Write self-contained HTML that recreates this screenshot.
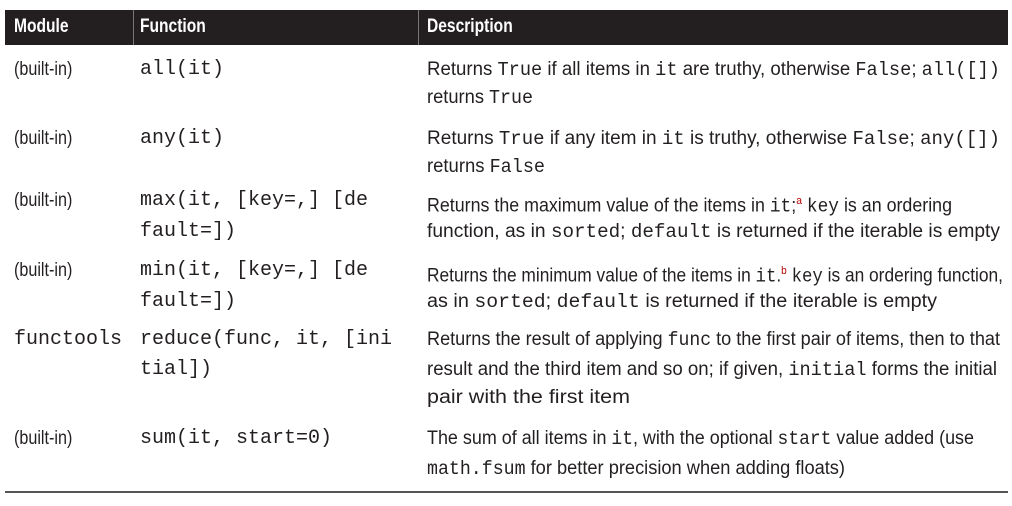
<!DOCTYPE html>
<html><head><meta charset="utf-8"><style>
body{margin:0;width:1012px;height:506px;background:#fff;position:relative;overflow:hidden;font-family:"Liberation Sans",sans-serif;color:#231f20}
.hd{position:absolute;left:5px;top:10px;width:1003px;height:35px;background:#231f20}
.sep{position:absolute;top:10px;width:1px;height:35px;background:#777}
.h{position:absolute;top:13px;color:#fff;font-weight:bold;font-size:19px;line-height:28px;transform:scaleX(.82);transform-origin:left;white-space:nowrap}
.l{position:absolute;height:22px;line-height:22px;font-size:19px;white-space:nowrap;transform-origin:left center}
.l span.in{display:inline-block;transform-origin:left center}
code{font-family:"Liberation Mono",monospace;font-size:19px}
.m{position:absolute;height:22px;line-height:22px;font-family:"Liberation Mono",monospace;font-size:20px;white-space:nowrap;color:#231f20}
sup{color:#b00;font-size:11px}
.rule{position:absolute;left:5px;width:1003px;top:491px;height:2px;background:#555}
</style></head><body>
<div class="hd"></div>
<div class="sep" style="left:133px"></div>
<div class="sep" style="left:418px"></div>
<div class="h" style="left:14px">Module</div>
<div class="h" style="left:140px">Function</div>
<div class="h" style="left:427px">Description</div>

<div class="l" style="left:14px;top:59px"><span class="in" style="transform:scaleX(.85)">(built-in)</span></div>
<div class="l" style="left:14px;top:128px"><span class="in" style="transform:scaleX(.85)">(built-in)</span></div>
<div class="l" style="left:14px;top:190px"><span class="in" style="transform:scaleX(.85)">(built-in)</span></div>
<div class="l" style="left:14px;top:260px"><span class="in" style="transform:scaleX(.85)">(built-in)</span></div>
<div class="m" style="left:14px;top:329px">functools</div>
<div class="l" style="left:14px;top:428px"><span class="in" style="transform:scaleX(.85)">(built-in)</span></div>

<div class="m" style="left:140px;top:59px">all(it)</div>
<div class="m" style="left:140px;top:128px">any(it)</div>
<div class="m" style="left:140px;top:190px">max(it, [key=,] [de</div>
<div class="m" style="left:140px;top:221px">fault=])</div>
<div class="m" style="left:140px;top:260px">min(it, [key=,] [de</div>
<div class="m" style="left:140px;top:291px">fault=])</div>
<div class="m" style="left:140px;top:329px">reduce(func, it, [ini</div>
<div class="m" style="left:140px;top:359px">tial])</div>
<div class="m" style="left:140px;top:428px">sum(it, start=0)</div>

<div class="l" style="left:427px;top:59px"><span class="in fit" title="573">Returns <code>True</code> if all items in <code>it</code> are truthy, otherwise <code>False</code>; <code>all([])</code></span></div>
<div class="l" style="left:427px;top:87px"><span class="in fit" title="106">returns <code>True</code></span></div>
<div class="l" style="left:427px;top:128px"><span class="in fit" title="573">Returns <code>True</code> if any item in <code>it</code> is truthy, otherwise <code>False</code>; <code>any([])</code></span></div>
<div class="l" style="left:427px;top:156px"><span class="in fit" title="118">returns <code>False</code></span></div>
<div class="l" style="left:427px;top:190px"><span class="in fit" title="525">Returns the maximum value of the items in <code>it</code>;<sup>a</sup> <code>key</code> is an ordering</span></div>
<div class="l" style="left:427px;top:221px"><span class="in fit" title="573">function, as in <code>sorted</code>; <code>default</code> is returned if the iterable is empty</span></div>
<div class="l" style="left:427px;top:260px"><span class="in fit" title="576">Returns the minimum value of the items in <code>it</code>.<sup>b</sup> <code>key</code> is an ordering function,</span></div>
<div class="l" style="left:427px;top:291px"><span class="in fit" title="510">as in <code>sorted</code>; <code>default</code> is returned if the iterable is empty</span></div>
<div class="l" style="left:427px;top:329px"><span class="in fit" title="573">Returns the result of applying <code>func</code> to the first pair of items, then to that</span></div>
<div class="l" style="left:427px;top:359px"><span class="in fit" title="570">result and the third item and so on; if given, <code>initial</code> forms the initial</span></div>
<div class="l" style="left:427px;top:387px"><span class="in fit" title="203">pair with the first item</span></div>
<div class="l" style="left:427px;top:428px"><span class="in fit" title="547">The sum of all items in <code>it</code>, with the optional <code>start</code> value added (use</span></div>
<div class="l" style="left:427px;top:458px"><span class="in fit" title="418"><code>math.fsum</code> for better precision when adding floats)</span></div>
<div class="rule"></div>
<script>
document.querySelectorAll('.fit').forEach(function(e){var w=+e.title;e.removeAttribute('title');var n=e.getBoundingClientRect().width;if(n>0)e.style.transform='scaleX('+(w/n)+')';});
</script>
</body></html>
